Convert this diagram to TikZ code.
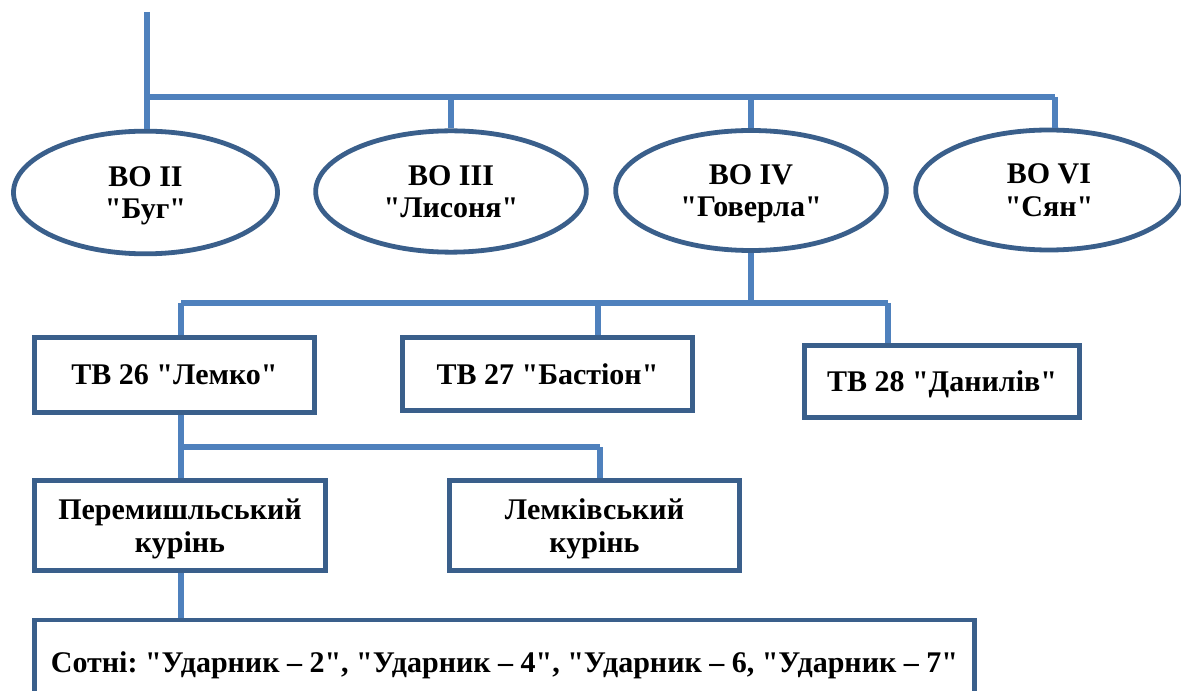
\documentclass[tikz,border=0pt]{standalone}
\usepackage{fontspec}
\setmainfont{Liberation Serif}[Ligatures=TeXOff]
\frenchspacing
\usepackage{xcolor}
\definecolor{linkblue}{rgb}{0.3098,0.5059,0.7412}
\definecolor{edgeblue}{rgb}{0.2275,0.3725,0.5451}
\usetikzlibrary{shapes,positioning}
\tikzset{
	branch/.style={linkblue,line width=4pt},
	oval/.style={ellipse,draw=edgeblue,line width=3.6pt,fill=white,align=center,inner sep=0pt,text depth=0pt,font=\fontsize{22.5}{24.5}\selectfont\bfseries},
	unit/.style={rectangle,draw=edgeblue,line width=3.6pt,fill=white,align=center,inner sep=0pt,text depth=0pt,font=\fontsize{22.5}{24.5}\selectfont\bfseries}
}

\begin{document}
\begin{tikzpicture}[x=0.75pt,y=-0.75pt]
	\useasboundingbox (0,0) rectangle (1181,691);
	\clip (0,0) rectangle (1181,691);
	
	\node[oval,minimum width=198pt,minimum height=92pt] (bo2) at (145.5,192.5) {ВО II\\"Буг"};
	\node[oval,minimum width=203pt,minimum height=91pt] (bo3) at (451,191.5) {ВО III\\"Лисоня"};
	\node[oval,minimum width=203pt,minimum height=90pt] (bo4) at (751,190.5) {ВО IV\\"Говерла"};
	\node[oval,minimum width=200pt,minimum height=90pt] (bo6) at (1049,190) {ВО VI\\"Сян"};
	
	\node[unit,minimum width=210pt,minimum height=56pt] (tv26) at (174.5,375) {ТВ 26 "Лемко"};
	\node[unit,minimum width=217.5pt,minimum height=54.5pt] (tv27) at (547.5,374) {ТВ 27 "Бастіон"};
	\node[unit,minimum width=206pt,minimum height=54pt] (tv28) at (942,381.5) {ТВ 28 "Данилів"};
	
	\node[unit,minimum width=218pt,minimum height=67.5pt] (kur1) at (180,525.5) {Перемишльський\\курінь};
	\node[unit,minimum width=217.5pt,minimum height=67.5pt] (kur2) at (594.5,525.5) {Лемківський\\курінь};
	
	\node[unit,minimum width=705pt,minimum height=63pt] (sotni) at (504.5,662) {Сотні: "Ударник – 2", "Ударник – 4", "Ударник – 6, "Ударник – 7"};
	
	% bus points
	\coordinate[] (top) at (147,12);
	\coordinate[] (b1l) at (147,97);
	\coordinate[] (b1r) at (1055,97);
	\coordinate[] (b2l) at (181,303);
	\coordinate[] (b2m) at (598,303);
	\coordinate[] (b2r) at (888,303);
	\coordinate[] (b3l) at (181,447);
	\coordinate[] (b3r) at (600,447);
	
	\draw[branch](top)--(b1l|-bo2.north);
	\draw[branch](b1l)--(b1r);
	\draw[branch](bo3.north|-b1l)--(bo3.north);
	\draw[branch](bo4.north|-b1l)--(bo4.north);
	\draw[branch](b1r)--(b1r|-bo6.north);
	
	\draw[branch](bo4.south)--(bo4.south|-b2l);
	\draw[branch](b2l)--(b2r);
	\draw[branch](b2l)--(b2l|-tv26.north);
	\draw[branch](b2m)--(b2m|-tv27.north);
	\draw[branch](b2r)--(b2r|-tv28.north);
	
	\draw[branch](b3l|-tv26.south)--(b3l);
	\draw[branch](b3l)--(b3r);
	\draw[branch](b3l|-kur1.north)--(b3l);
	\draw[branch](b3r)--(b3r|-kur2.north);
	
	\draw[branch](b3l|-kur1.south)--(b3l|-sotni.north);
\end{tikzpicture}
\end{document}
